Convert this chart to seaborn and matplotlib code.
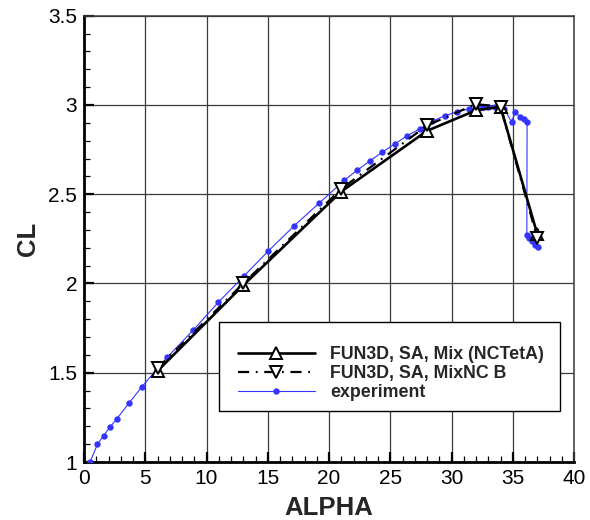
import numpy as np
import pandas as pd
import seaborn as sns
import matplotlib
matplotlib.use("Agg")
import matplotlib.pyplot as plt
from matplotlib.patches import Rectangle
from matplotlib.ticker import MultipleLocator, FuncFormatter

# FUN3D, SA, Mix (NCTetA)
mix_alpha = [6.0, 13.0, 21.0, 28.0, 32.0, 34.0, 37.0]
mix_cl = [1.51, 1.99, 2.515, 2.855, 2.97, 2.99, 2.277]

# FUN3D, SA, MixNC B
mixnc_alpha = [6.0, 13.0, 21.0, 28.0, 32.0, 34.0, 37.0]
mixnc_cl = [1.525, 2.0, 2.53, 2.885, 3.005, 2.99, 2.255]

# experiment
exp_alpha = [0.5, 1.1, 1.6, 2.1, 2.67, 3.7, 4.73, 6.8, 8.92, 10.97, 13.06,
             15.05, 17.14, 19.21, 21.25, 22.29, 23.32, 24.33, 25.36, 26.39,
             27.43, 28.43, 29.47, 30.47, 31.45, 32.06, 32.6, 33.0, 33.55,
             33.96, 34.3, 34.9, 35.2, 35.6, 35.95, 36.17, 36.15, 36.35,
             36.57, 36.82, 37.1]
exp_cl = [1.0, 1.10, 1.147, 1.194, 1.241, 1.332, 1.422, 1.587, 1.739, 1.895,
          2.042, 2.182, 2.322, 2.451, 2.578, 2.634, 2.685, 2.735, 2.781,
          2.828, 2.867, 2.909, 2.940, 2.962, 2.979, 2.987, 2.99, 2.99, 2.987,
          2.983, 2.979, 2.905, 2.959, 2.934, 2.92, 2.905, 2.272, 2.255,
          2.236, 2.217, 2.203]

labels = ["FUN3D, SA, Mix (NCTetA)", "FUN3D, SA, MixNC B", "experiment"]

sns.set_style("ticks")
plt.rcParams["font.family"] = ["Liberation Sans", "DejaVu Sans"]

fig = plt.figure(figsize=(5.9, 5.2), dpi=100)
ax = fig.add_axes([84 / 590, 58 / 520, 490 / 590, 446.3 / 520])

blue = "#3434ff"
sns.lineplot(x=exp_alpha, y=exp_cl, sort=False, estimator=None, ax=ax,
             color=blue, lw=0.8, marker="o", markersize=4.6,
             markeredgewidth=0, markerfacecolor=blue, label=labels[2],
             zorder=3)
sns.lineplot(x=mix_alpha, y=mix_cl, sort=False, estimator=None, ax=ax,
             color="black", lw=1.9, marker="^", markersize=8.5,
             markerfacecolor="white", markeredgecolor="black",
             markeredgewidth=1.4, label=labels[0], zorder=4)
sns.lineplot(x=mixnc_alpha, y=mixnc_cl, sort=False, estimator=None, ax=ax,
             color="black", lw=1.6, linestyle=(0, (5, 3, 0.8, 3)),
             marker="v", markersize=8.5, markerfacecolor="white",
             markeredgecolor="black", markeredgewidth=1.4,
             label=labels[1], zorder=4)

ax.set_xlim(0, 40)
ax.set_ylim(1, 3.5)
ax.xaxis.set_major_locator(MultipleLocator(5))
ax.xaxis.set_minor_locator(MultipleLocator(1))
ax.yaxis.set_major_locator(MultipleLocator(0.5))
ax.yaxis.set_minor_locator(MultipleLocator(0.1))
ax.yaxis.set_major_formatter(FuncFormatter(lambda v, p: f"{v:g}"))
ax.xaxis.set_major_formatter(FuncFormatter(lambda v, p: f"{v:g}"))

ax.grid(True, which="major", color="#3a3a3a", lw=0.9)
ax.set_axisbelow(True)
ax.tick_params(which="major", direction="in", length=7.5, width=1.6,
               labelsize=15, pad=5, top=False, right=False, colors="black")
ax.tick_params(which="minor", direction="in", length=4.3, width=0.9,
               top=False, right=False, colors="black")
for s in ["left", "bottom"]:
    ax.spines[s].set_linewidth(2.0)
    ax.spines[s].set_color("black")
for s in ["top", "right"]:
    ax.spines[s].set_visible(True)
    ax.spines[s].set_linewidth(1.1)
    ax.spines[s].set_color("#3a3a3a")

ax.set_xlabel("ALPHA", fontsize=18.5, fontweight="bold", labelpad=6)
ax.set_ylabel("CL", fontsize=18.5, fontweight="bold", labelpad=6)

# legend box (drawn separately so its margins can differ per side)
ax.add_patch(Rectangle((0.2761, 0.1143), 0.9714 - 0.2761, 0.3144 - 0.1143,
                       transform=ax.transAxes, facecolor="white",
                       edgecolor="black", lw=1.0, zorder=9))

handles, labs = ax.get_legend_handles_labels()
order = [labs.index(l) for l in labels]
leg = ax.legend([handles[i] for i in order], [labs[i] for i in order],
                loc="upper left", bbox_to_anchor=(0.3137, 0.2588),
                borderaxespad=0, frameon=False,
                prop={"weight": "bold", "size": 12.8},
                handlelength=4.35, handletextpad=0.85, labelspacing=0.11,
                borderpad=0)
leg.set_zorder(10)

fig.savefig("out.png", dpi=100)
